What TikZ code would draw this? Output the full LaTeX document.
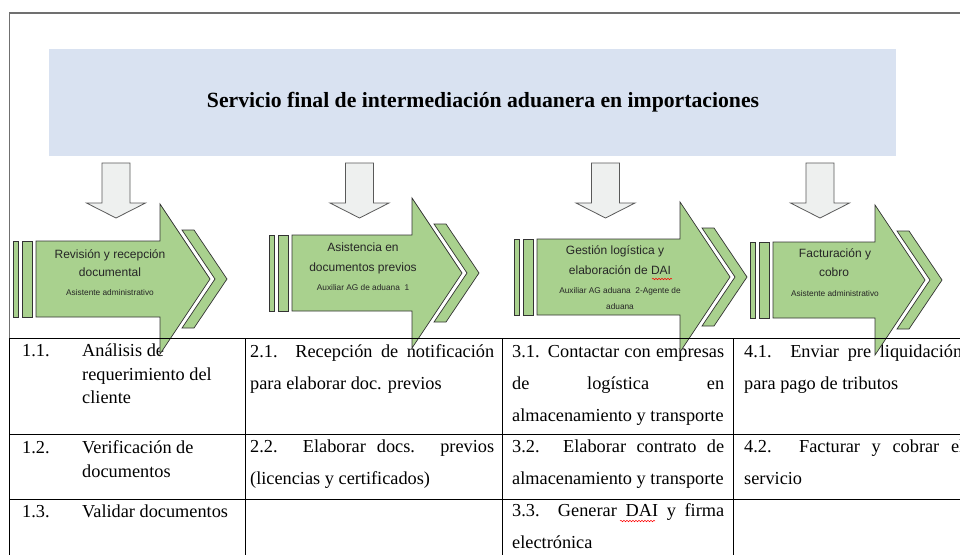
\documentclass[tikz,border=0pt]{standalone}
\usepackage{fontspec}
\setmainfont{Liberation Serif}
\newfontfamily\lsans{Liberation Sans}
\usetikzlibrary{decorations.pathmorphing}
\definecolor{titlebg}{HTML}{D9E2F1}
\definecolor{arrgreen}{HTML}{A9D18E}
\definecolor{downfill}{HTML}{EEF0EF}
\definecolor{framegray}{HTML}{707070}
\definecolor{lbltext}{HTML}{262626}
\tikzset{
  titlebox/.style={fill=titlebg, draw=none, minimum width=847pt, minimum height=107pt, inner sep=0pt},
  titletext/.style={inner sep=0pt, font=\bfseries\fontsize{21.7}{24}\selectfont},
  dnstyle/.style={fill=downfill, draw=black!65, line width=0.8pt, line join=miter},
  gstyle/.style={fill=arrgreen, draw=black!80, line width=0.7pt, line join=miter},
  lbl/.style={font=\lsans\fontsize{12}{14}\selectfont, text=lbltext, inner sep=0pt, anchor=base},
  sublbl/.style={font=\lsans\fontsize{8.3}{10}\selectfont, text=lbltext, inner sep=0pt, anchor=base},
  cell/.style={font=\fontsize{18.3}{22}\selectfont, inner sep=0pt, anchor=base west},
  grid/.style={draw=black, line width=0.9pt},
  spell/.style={draw=red, line width=0.5pt, decorate, decoration={snake, amplitude=0.7pt, segment length=3pt}}
}
\newcommand\dnarr[1]{%
  \draw[dnstyle] (#1-14,163) -- (#1+14,163) -- (#1+14,203) -- (#1+29.5,203) -- (#1,218)
     -- (#1-29.5,203) -- (#1-14,203) -- cycle;}
\newcommand\grp[3]{%
  \draw[gstyle] (#1-23,#3-38) rectangle (#1-18,#3+38);
  \draw[gstyle] (#1-14,#3-38) rectangle (#1-4,#3+38);
  \draw[gstyle] (#2+22,#3-49) -- (#2+34,#3-49) -- (#2+67,#3) -- (#2+34,#3+49)
     -- (#2+22,#3+49) -- (#2+55,#3) -- cycle;
  \draw[gstyle] (#1,#3-38) -- (#2,#3-38) -- (#2,#3-75) -- (#2+50,#3) -- (#2,#3+75)
     -- (#2,#3+38) -- (#1,#3+38) -- cycle;}
\newcommand\jline[5]{\node[cell] (#1) at (#2,#3) {\makebox[#4pt][s]{#5}};}
\begin{document}
\begin{tikzpicture}[x=1pt,y=-1pt]
\useasboundingbox (0,0) rectangle (960,555);
\clip (0,0) rectangle (960,555);
\fill[white] (0,0) rectangle (960,555);
% frame
\draw[framegray, line width=1.5pt] (9.5,338) -- (9.5,13) -- (960,13);
% title
\node[titlebox] (title) at (472.5,102.5) {};
\node[titletext] (titlet) at (483,102.5) {Servicio final de intermediación aduanera en importaciones};
% down arrows
\dnarr{116}
\dnarr{359.5}
\dnarr{605.5}
\dnarr{820}
% table text
\node[cell] (c11n) at (22,356) {1.1.};
\node[cell] (c11a) at (82,356) {Análisis de};
\node[cell] (c11b) at (82,380) {requerimiento del};
\node[cell] (c11c) at (82,403) {cliente};
\node[cell] (c12n) at (22,453) {1.2.};
\node[cell] (c12a) at (82,453) {Verificación de};
\node[cell] (c12b) at (82,477) {documentos};
\node[cell] (c13n) at (22,517) {1.3.};
\node[cell] (c13a) at (82,517) {Validar documentos};
\jline{c21a}{250}{357}{244}{2.1. Recepción de notificación}
\node[cell] (c21b) at (250,389) {para elaborar doc. previos};
\jline{c22a}{250}{452}{244}{2.2. Elaborar docs. previos}
\node[cell] (c22b) at (250,484) {(licencias y certificados)};
\jline{c31a}{512}{357}{212}{3.1. Contactar con empresas}
\jline{c31b}{512}{389}{212}{de logística en}
\node[cell] (c31c) at (512,421) {almacenamiento y transporte};
\jline{c32a}{512}{452}{212}{3.2. Elaborar contrato de}
\node[cell] (c32b) at (512,484) {almacenamiento y transporte};
\jline{c33a}{512}{516}{212}{3.3. Generar DAI y firma}
\node[cell] (c33b) at (512,548) {electrónica};
\jline{c41a}{744}{357}{218}{4.1. Enviar pre liquidación}
\node[cell] (c41b) at (744,389) {para pago de tributos};
\jline{c42a}{744}{452}{220}{4.2. Facturar y cobrar el}
\node[cell] (c42b) at (744,484) {servicio};
\draw[spell] (620,521) -- (655,521);
% green step arrows
\grp{36}{160}{279}
\grp{292}{412}{273}
\grp{537}{680}{277}
\grp{773}{875}{280}
% labels
\node[lbl] (g1a) at (110,258) {Revisión y recepción};
\node[lbl] (g1b) at (110,276) {documental};
\node[sublbl] (g1c) at (110,295) {Asistente administrativo};
\node[lbl] (g2a) at (363,251) {Asistencia en};
\node[lbl] (g2b) at (363,271) {documentos previos};
\node[sublbl] (g2c) at (363,290) {Auxiliar AG de aduana\ \ 1};
\node[lbl] (g3a) at (615,254) {Gestión logística y};
\node[lbl] (g3b) at (620,274) {elaboración de DAI};
\node[sublbl] (g3c) at (620,293) {Auxiliar AG aduana\ \ 2-Agente de};
\begin{scope}
\clip (537,239) rectangle (680,314.5);
\node[sublbl] (g3d) at (620,309) {aduana};
\end{scope}
\draw[spell] (652,279) -- (672,279);
\node[lbl] (g4a) at (835,257) {Facturación y};
\node[lbl] (g4b) at (834,276) {cobro};
\node[sublbl] (g4c) at (835,296) {Asistente administrativo};
% table grid
\draw[grid] (9.5,338) -- (960,338);
\draw[grid] (9.5,434) -- (960,434);
\draw[grid] (9.5,499) -- (960,499);
\draw[grid] (9.5,338) -- (9.5,555);
\draw[grid] (245,338) -- (245,555);
\draw[grid] (502,338) -- (502,555);
\draw[grid] (733,338) -- (733,555);
\end{tikzpicture}
\end{document}
